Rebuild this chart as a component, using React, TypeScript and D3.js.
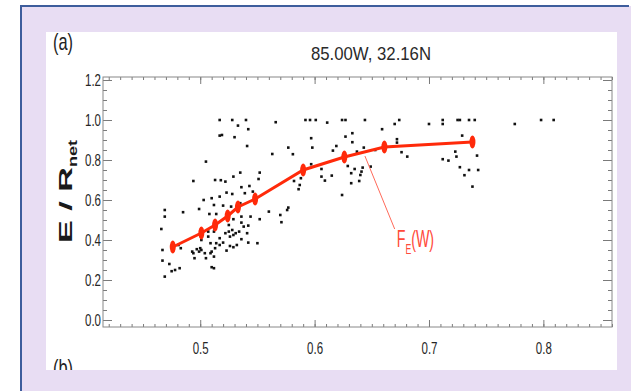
import { useEffect, useRef } from 'react';
import * as d3 from 'd3';

// scatter of individual samples (x, E/Rnet)
const samples: [number, number][] = [
  [0.469, 0.55], [0.469, 0.517], [0.485, 0.539], [0.503, 0.6], [0.51, 0.609], [0.517, 0.617], [0.523, 0.637], [0.528, 0.63], [0.539, 0.634], [0.512, 0.575],
  [0.508, 0.53], [0.514, 0.53], [0.52, 0.572], [0.527, 0.567], [0.535, 0.584], [0.546, 0.642], [0.56, 0.542], [0.552, 0.504], [0.544, 0.517], [0.536, 0.517],
  [0.538, 0.467], [0.536, 0.487], [0.529, 0.504], [0.525, 0.475], [0.525, 0.442], [0.528, 0.45], [0.529, 0.425], [0.531, 0.434], [0.526, 0.417], [0.534, 0.442],
  [0.542, 0.472], [0.541, 0.434], [0.536, 0.404], [0.542, 0.387], [0.55, 0.384], [0.532, 0.375], [0.529, 0.364], [0.526, 0.37], [0.523, 0.347], [0.52, 0.387],
  [0.517, 0.375], [0.514, 0.384], [0.513, 0.359], [0.509, 0.384], [0.507, 0.417], [0.507, 0.442], [0.512, 0.442], [0.517, 0.409], [0.522, 0.434], [0.501, 0.4],
  [0.5, 0.359], [0.499, 0.342], [0.497, 0.354], [0.494, 0.334], [0.493, 0.342], [0.495, 0.309], [0.501, 0.35], [0.504, 0.334], [0.505, 0.309], [0.509, 0.334],
  [0.51, 0.342], [0.512, 0.317], [0.51, 0.264], [0.512, 0.259], [0.481, 0.375], [0.483, 0.359], [0.467, 0.35], [0.467, 0.297], [0.473, 0.28], [0.475, 0.244],
  [0.478, 0.25], [0.482, 0.259], [0.469, 0.217], [0.466, 0.455], [0.499, 0.555],
  [0.517, 1.0], [0.528, 1.0], [0.54, 1.0], [0.533, 0.972], [0.542, 0.954], [0.566, 0.989], [0.592, 1.0], [0.596, 1.0], [0.601, 1.0], [0.611, 0.987],
  [0.517, 0.922], [0.519, 0.925], [0.53, 0.914], [0.541, 0.87], [0.597, 0.909], [0.598, 0.862], [0.577, 0.862], [0.581, 0.829], [0.563, 0.83], [0.505, 0.792],
  [0.535, 0.737], [0.552, 0.737], [0.551, 0.705], [0.513, 0.7], [0.518, 0.699], [0.522, 0.692], [0.494, 0.695], [0.529, 0.717], [0.582, 0.695], [0.588, 0.709],
  [0.587, 0.675], [0.586, 0.654], [0.606, 0.755], [0.606, 0.717], [0.609, 0.697], [0.597, 0.779], [0.536, 0.664], [0.543, 0.67],
  [0.624, 1.0], [0.627, 1.0], [0.644, 1.0], [0.674, 1.0], [0.67, 0.98], [0.659, 0.954], [0.7, 0.98], [0.712, 1.0], [0.712, 0.98], [0.725, 1.0],
  [0.727, 1.0], [0.735, 1.0], [0.74, 1.0], [0.775, 0.98], [0.729, 0.922], [0.627, 0.917], [0.633, 0.934], [0.633, 0.889], [0.619, 0.87], [0.616, 0.847],
  [0.643, 0.862], [0.637, 0.842], [0.672, 0.904], [0.672, 0.887], [0.676, 0.839], [0.681, 0.817], [0.723, 0.842], [0.724, 0.817], [0.712, 0.804], [0.717, 0.797],
  [0.742, 0.822], [0.743, 0.75], [0.735, 0.75], [0.731, 0.724], [0.727, 0.764], [0.738, 0.667], [0.629, 0.77], [0.635, 0.755], [0.632, 0.734], [0.642, 0.762],
  [0.641, 0.742], [0.64, 0.725], [0.639, 0.695], [0.649, 0.767], [0.632, 0.684], [0.615, 0.722], [0.624, 0.625], [0.653, 0.85], [0.798, 1.0], [0.809, 1.0],
  [0.576, 0.55], [0.577, 0.562], [0.57, 0.525], [0.571, 0.489],
];

// binned means F_E(W)
const meanX = [0.476, 0.501, 0.513, 0.524, 0.533, 0.548, 0.59, 0.626, 0.661, 0.738];
const meanY = [0.365, 0.435, 0.475, 0.52, 0.565, 0.605, 0.75, 0.815, 0.865, 0.89];

const xTicks = [0.5, 0.6, 0.7, 0.8];
const yTicks = [0, 0.2, 0.4, 0.6, 0.8, 1.0, 1.2];
const xMinor = d3.range(42, 87).map(v => v / 100);
const yMinor = d3.range(0, 25).map(v => v * 0.05);

const title = '85.00W, 32.16N';
const labelAnchor = { x: 0.644, y: 0.82 };
const labelEnd = { x: 0.67, y: 0.455 };

export default function App() {
  const svgRef = useRef<SVGSVGElement>(null);

  useEffect(() => {
    const svg = d3.select(svgRef.current);
    svg.selectAll('*').remove();

    const width = 631;
    const height = 391;
    const left = 103, right = 612, top = 77, bottom = 327;

    svg.attr('width', width).attr('height', height);

    // page frame
    svg.append('rect').attr('width', width).attr('height', height).attr('fill', '#fff');
    svg.append('rect')
      .attr('x', 21).attr('y', 6)
      .attr('width', width - 21).attr('height', height - 6)
      .attr('fill', '#e8ddf3');
    svg.append('line').attr('x1', 21).attr('x2', 21).attr('y1', 6).attr('y2', height)
      .attr('stroke', '#3d5d9c').attr('stroke-width', 2);
    svg.append('line').attr('x1', 20).attr('x2', 629).attr('y1', 6).attr('y2', 6)
      .attr('stroke', '#3d5d9c').attr('stroke-width', 2);

    svg.append('defs').append('clipPath').attr('id', 'panel-clip')
      .append('rect').attr('x', 46).attr('y', 32).attr('width', 571).attr('height', 338);
    svg.append('rect')
      .attr('x', 46).attr('y', 32).attr('width', 571).attr('height', 338)
      .attr('fill', '#fff');

    const panel = svg.append('g').attr('clip-path', 'url(#panel-clip)');

    const x = d3.scaleLinear().domain([0.415, 0.86]).range([left, right]);
    const y = d3.scaleLinear().domain([-0.035, 1.215]).range([bottom, top]);

    const font = '"Liberation Sans", Arial, sans-serif';
    const tickColor = '#7a7a7a';

    const styleAxis = (g: any, withLabels: boolean) => {
      g.select('.domain').remove();
      g.selectAll('line').attr('stroke', tickColor);
      if (!withLabels) g.selectAll('text').remove();
      else g.selectAll('text')
        .attr('fill', '#262626')
        .style('font-family', font)
        .style('font-size', '17px')
        .attr('textLength', 16)
        .attr('lengthAdjust', 'spacingAndGlyphs');
    };

    // bottom + top
    panel.append('g').attr('transform', `translate(0,${bottom})`)
      .call(d3.axisBottom(x).tickValues(xMinor).tickSize(-3).tickFormat(() => ''))
      .call((g: any) => styleAxis(g, false));
    panel.append('g').attr('transform', `translate(0,${bottom})`)
      .call(d3.axisBottom(x).tickValues(xTicks).tickSize(-7).tickPadding(15).tickFormat(d3.format('.1f')))
      .call((g: any) => styleAxis(g, true));
    panel.append('g').attr('transform', `translate(0,${top})`)
      .call(d3.axisTop(x).tickValues(xMinor).tickSize(-3))
      .call((g: any) => styleAxis(g, false));
    panel.append('g').attr('transform', `translate(0,${top})`)
      .call(d3.axisTop(x).tickValues(xTicks).tickSize(-7))
      .call((g: any) => styleAxis(g, false));

    // left + right
    panel.append('g').attr('transform', `translate(${left},0)`)
      .call(d3.axisLeft(y).tickValues(yMinor).tickSize(-4).tickFormat(() => ''))
      .call((g: any) => styleAxis(g, false));
    panel.append('g').attr('transform', `translate(${left},0)`)
      .call(d3.axisLeft(y).tickValues(yTicks).tickSize(-9).tickPadding(2).tickFormat(d3.format('.1f')))
      .call((g: any) => styleAxis(g, true));
    panel.append('g').attr('transform', `translate(${right},0)`)
      .call(d3.axisRight(y).tickValues(yMinor).tickSize(-4))
      .call((g: any) => styleAxis(g, false));
    panel.append('g').attr('transform', `translate(${right},0)`)
      .call(d3.axisRight(y).tickValues(yTicks).tickSize(-9))
      .call((g: any) => styleAxis(g, false));

    panel.append('rect')
      .attr('x', left).attr('y', top)
      .attr('width', right - left).attr('height', bottom - top)
      .attr('fill', 'none').attr('stroke', '#888').attr('stroke-width', 1);

    // samples
    panel.append('g').selectAll('rect')
      .data(samples)
      .join('rect')
      .attr('x', d => x(d[0]) - 1.3)
      .attr('y', d => y(d[1]) - 1.3)
      .attr('width', 2.6)
      .attr('height', 2.6)
      .attr('fill', '#111');

    // mean curve
    const means = meanX.map((v, i) => [v, meanY[i]] as [number, number]);
    const red = '#ff2a0a';
    panel.append('path')
      .datum(means)
      .attr('d', d3.line<[number, number]>().x(d => x(d[0])).y(d => y(d[1])))
      .attr('fill', 'none')
      .attr('stroke', red)
      .attr('stroke-width', 3);
    panel.append('g').selectAll('ellipse')
      .data(means)
      .join('ellipse')
      .attr('cx', d => x(d[0]))
      .attr('cy', d => y(d[1]))
      .attr('rx', 3)
      .attr('ry', 6.5)
      .attr('fill', red);

    // annotation: leader line + F_E(W) as one text with a subscript
    const ex = x(labelEnd.x), ey = y(labelEnd.y);
    panel.append('line')
      .attr('x1', x(labelAnchor.x)).attr('y1', y(labelAnchor.y))
      .attr('x2', ex).attr('y2', ey)
      .attr('stroke', '#ff6a5a').attr('stroke-width', 1);
    const lab = panel.append('text')
      .attr('transform', `translate(${ex + 2},${ey + 18}) scale(0.62,1)`)
      .attr('fill', '#ff4a3a')
      .style('font-family', font)
      .style('font-size', '23px');
    lab.append('tspan').text('F');
    lab.append('tspan').attr('dy', 7).style('font-size', '14px').text('E');
    lab.append('tspan').attr('dy', -7).text('(W)');

    // titles
    panel.append('text')
      .attr('x', 371).attr('y', 60)
      .attr('text-anchor', 'middle')
      .attr('fill', '#2a2a2a')
      .style('font-family', font).style('font-size', '19px')
      .attr('textLength', 120).attr('lengthAdjust', 'spacingAndGlyphs')
      .text(title);
    panel.append('text')
      .attr('x', 53).attr('y', 50)
      .attr('fill', '#222')
      .style('font-family', font).style('font-size', '24px')
      .attr('textLength', 20).attr('lengthAdjust', 'spacingAndGlyphs')
      .text('(a)');
    panel.append('text')
      .attr('x', 53).attr('y', 376)
      .attr('fill', '#222')
      .style('font-family', font).style('font-size', '24px')
      .attr('textLength', 20).attr('lengthAdjust', 'spacingAndGlyphs')
      .text('(b)');

    // y label, rotated
    const yl = panel.append('g')
      .attr('transform', 'translate(72,192) rotate(-90)')
      .attr('fill', '#1a1a1a')
      .style('font-family', font)
      .style('font-weight', 'bold');
    yl.append('text').attr('x', -51).attr('y', 0).style('font-size', '18px')
      .attr('textLength', 76).attr('lengthAdjust', 'spacingAndGlyphs').text('E / R');
    yl.append('text').attr('x', 25).attr('y', 5).style('font-size', '13px')
      .attr('textLength', 27).attr('lengthAdjust', 'spacingAndGlyphs').text('net');
  }, []);

  return <svg ref={svgRef} style={{ position: 'absolute', left: 0, top: 0, display: 'block' }} />;
}
